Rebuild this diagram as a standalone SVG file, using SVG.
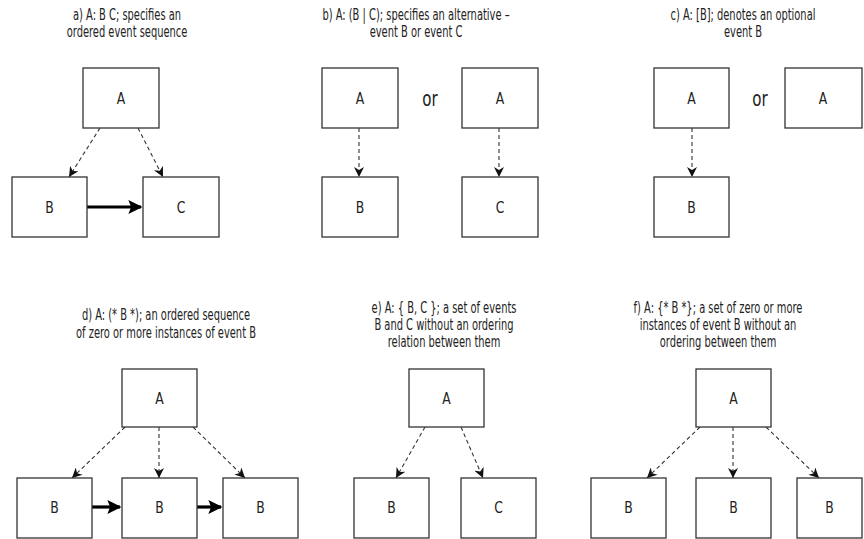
<svg xmlns="http://www.w3.org/2000/svg" width="864" height="539" viewBox="0 0 864 539">
  <defs>
    <style>
      .box { fill: #fff; stroke: #333; stroke-width: 1.3; }
      text { font-family: "DejaVu Sans", "Liberation Sans", sans-serif; fill: #222; text-anchor: middle; }
      .lbl { font-size: 16.5px; }
      .cap { font-size: 15px; }
      .or { font-size: 21px; }
      .dash { fill: none; stroke: #333; stroke-width: 1.1; stroke-dasharray: 4 3; marker-end: url(#barb); }
      .seq { fill: none; stroke: #000; stroke-width: 3.2; marker-end: url(#solid); }
    </style>
    <marker id="barb" viewBox="0 0 10 10" refX="10" refY="5" markerWidth="10" markerHeight="10" markerUnits="userSpaceOnUse" orient="auto">
      <path d="M0,0 L10,5 L0,10 L3,5 Z" fill="#111"/>
    </marker>
    <marker id="solid" viewBox="0 0 10 10" refX="9" refY="5" markerWidth="4.4" markerHeight="4.4" orient="auto">
      <path d="M0,0 L10,5 L0,10 L2,5 Z" fill="#000"/>
    </marker>
  </defs>

  <!-- captions: narrow lettering via horizontal scale about each centre -->
  <g id="captions">
    <g transform="translate(127,0) scale(0.66,1)">
      <text class="cap" x="0" y="20">a) A: B C; specifies an</text>
      <text class="cap" x="0" y="37">ordered event sequence</text>
    </g>
    <g transform="translate(416,0) scale(0.66,1)">
      <text class="cap" x="0" y="20">b) A: (B | C); specifies an alternative –</text>
      <text class="cap" x="0" y="37">event B or event C</text>
    </g>
    <g transform="translate(743,0) scale(0.66,1)">
      <text class="cap" x="0" y="20">c) A: [B]; denotes an optional</text>
      <text class="cap" x="0" y="37">event B</text>
    </g>
    <g transform="translate(166,0) scale(0.66,1)">
      <text class="cap" x="0" y="320">d) A: (* B *); an ordered sequence</text>
      <text class="cap" x="0" y="338">of zero or more instances of event B</text>
    </g>
    <g transform="translate(444,0) scale(0.66,1)">
      <text class="cap" x="0" y="313">e) A: { B, C }; a set of events</text>
      <text class="cap" x="0" y="330">B and C without an ordering</text>
      <text class="cap" x="0" y="347">relation between them</text>
    </g>
    <g transform="translate(718,0) scale(0.66,1)">
      <text class="cap" x="0" y="313">f) A: {* B *}; a set of zero or more</text>
      <text class="cap" x="0" y="330">instances of event B without an</text>
      <text class="cap" x="0" y="347">ordering between them</text>
    </g>
  </g>

  <!-- connectors -->
  <g id="connectors">
    <!-- a -->
    <path class="dash" d="M100,128 L69,177"/>
    <path class="dash" d="M138,128 L163,177"/>
    <path class="seq" d="M87,207 L141,207"/>
    <!-- b -->
    <path class="dash" d="M359,128 L359,177"/>
    <path class="dash" d="M499,128 L499,177"/>
    <!-- c -->
    <path class="dash" d="M692,128 L692,177"/>
    <!-- d -->
    <path class="dash" d="M125,427 L72,478"/>
    <path class="dash" d="M159,427 L159,478"/>
    <path class="dash" d="M193,427 L245,478"/>
    <path class="seq" d="M92,507 L120,507"/>
    <path class="seq" d="M197,507 L221,507"/>
    <!-- e -->
    <path class="dash" d="M425,427 L396,478"/>
    <path class="dash" d="M461,427 L483,478"/>
    <!-- f -->
    <path class="dash" d="M700,427 L647,478"/>
    <path class="dash" d="M733,427 L733,478"/>
    <path class="dash" d="M766,427 L819,478"/>
  </g>

  <!-- panel a -->
  <g id="a-A"><rect class="box" x="83" y="68" width="76" height="60"/><text class="lbl" transform="translate(121,104) scale(0.75,1)">A</text></g>
  <g id="a-B"><rect class="box" x="12" y="177" width="75" height="60"/><text class="lbl" transform="translate(49.5,213) scale(0.75,1)">B</text></g>
  <g id="a-C"><rect class="box" x="143" y="177" width="76" height="60"/><text class="lbl" transform="translate(181,213) scale(0.75,1)">C</text></g>

  <!-- panel b -->
  <g id="b-A1"><rect class="box" x="322" y="68" width="76" height="60"/><text class="lbl" transform="translate(360,104) scale(0.75,1)">A</text></g>
  <g id="b-B"><rect class="box" x="322" y="177" width="76" height="60"/><text class="lbl" transform="translate(360,213) scale(0.75,1)">B</text></g>
  <g id="b-A2"><rect class="box" x="462" y="68" width="76" height="60"/><text class="lbl" transform="translate(500,104) scale(0.75,1)">A</text></g>
  <g id="b-C"><rect class="box" x="462" y="177" width="76" height="60"/><text class="lbl" transform="translate(500,213) scale(0.75,1)">C</text></g>
  <text class="or" transform="translate(430,106) scale(0.72,1)">or</text>

  <!-- panel c -->
  <g id="c-A1"><rect class="box" x="654" y="68" width="75" height="60"/><text class="lbl" transform="translate(691.5,104) scale(0.75,1)">A</text></g>
  <g id="c-B"><rect class="box" x="654" y="177" width="75" height="60"/><text class="lbl" transform="translate(691.5,213) scale(0.75,1)">B</text></g>
  <g id="c-A2"><rect class="box" x="785" y="68" width="77" height="60"/><text class="lbl" transform="translate(823,104) scale(0.75,1)">A</text></g>
  <text class="or" transform="translate(760,106) scale(0.72,1)">or</text>

  <!-- panel d -->
  <g id="d-A"><rect class="box" x="122" y="369" width="75" height="58"/><text class="lbl" transform="translate(159.5,404) scale(0.75,1)">A</text></g>
  <g id="d-B1"><rect class="box" x="17" y="478" width="75" height="60"/><text class="lbl" transform="translate(54.5,513) scale(0.75,1)">B</text></g>
  <g id="d-B2"><rect class="box" x="122" y="478" width="75" height="60"/><text class="lbl" transform="translate(159.5,513) scale(0.75,1)">B</text></g>
  <g id="d-B3"><rect class="box" x="223" y="478" width="75" height="60"/><text class="lbl" transform="translate(260.5,513) scale(0.75,1)">B</text></g>

  <!-- panel e -->
  <g id="e-A"><rect class="box" x="409" y="369" width="75" height="58"/><text class="lbl" transform="translate(446.5,404) scale(0.75,1)">A</text></g>
  <g id="e-B"><rect class="box" x="354" y="478" width="75" height="60"/><text class="lbl" transform="translate(391.5,513) scale(0.75,1)">B</text></g>
  <g id="e-C"><rect class="box" x="461" y="478" width="75" height="60"/><text class="lbl" transform="translate(498.5,513) scale(0.75,1)">C</text></g>

  <!-- panel f -->
  <g id="f-A"><rect class="box" x="696" y="369" width="75" height="58"/><text class="lbl" transform="translate(733.5,404) scale(0.75,1)">A</text></g>
  <g id="f-B1"><rect class="box" x="591" y="478" width="75" height="60"/><text class="lbl" transform="translate(628.5,513) scale(0.75,1)">B</text></g>
  <g id="f-B2"><rect class="box" x="696" y="478" width="75" height="60"/><text class="lbl" transform="translate(733.5,513) scale(0.75,1)">B</text></g>
  <g id="f-B3"><rect class="box" x="797" y="478" width="65" height="60"/><text class="lbl" transform="translate(829.5,513) scale(0.75,1)">B</text></g>
</svg>
